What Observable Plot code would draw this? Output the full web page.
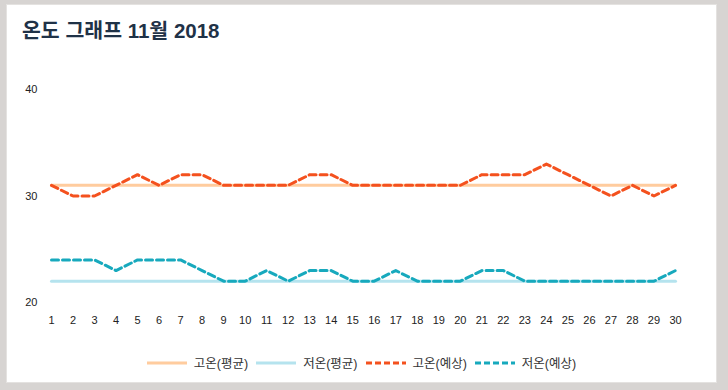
<!DOCTYPE html>
<html><head><meta charset="utf-8">
<script src="https://cdn.jsdelivr.net/npm/d3@7"></script>
<script src="https://cdn.jsdelivr.net/npm/@observablehq/plot@0.6"></script>
<style>
html,body{margin:0;padding:0;background:#d7d4d2;width:728px;height:390px;overflow:hidden;font-family:"Liberation Sans","Noto Sans CJK KR",sans-serif;}
#card{position:absolute;left:6px;top:4px;width:709px;height:377px;background:#fff;border:1px solid #e4e2e0;}
#title{position:absolute;left:15px;top:9px;font-size:20.5px;font-weight:bold;color:#1f3247;font-family:"Liberation Sans","Noto Sans CJK KR",sans-serif;}
#chart{position:absolute;left:0;top:46px;}
#legend{position:absolute;left:0;top:348px;width:709px;display:flex;justify-content:center;align-items:center;font-size:12.5px;color:#333;}
#legend .item{display:flex;align-items:center;margin:0 4px;}
#legend svg{margin-right:7px;}
</style></head>
<body>
<div id="card">
<div id="title">온도 그래프 11월 2018</div>
<div id="chart"></div>
<div id="legend"></div>
</div>
<script>
const days = d3.range(1, 31);
const highAvg = 31;
const lowAvg = 22;
const highForecast = [31,30,30,31,32,31,32,32,31,31,31,31,32,32,31,31,31,31,31,31,32,32,32,33,32,31,30,31,30,31];
const lowForecast = [24,24,24,23,24,24,24,23,22,22,23,22,23,23,22,22,23,22,22,22,23,23,22,22,22,22,22,22,22,23];
const yTicks = [20,30,40];
const seriesNames = ["고온(평균)","저온(평균)","고온(예상)","저온(예상)"];
const seriesColors = ["#ffcc9e","#b5e3ee","#f4511e","#17a9bd"];

const rows = [];
days.forEach((d,i)=>{
  rows.push({day:d, v:highAvg, s:seriesNames[0]});
  rows.push({day:d, v:lowAvg, s:seriesNames[1]});
  rows.push({day:d, v:highForecast[i], s:seriesNames[2]});
  rows.push({day:d, v:lowForecast[i], s:seriesNames[3]});
});

const plot = Plot.plot({
  width: 709, height: 290,
  marginLeft: 44, marginRight: 41, marginTop: 38, marginBottom: 39,
  style:{fontFamily:"Liberation Sans, sans-serif", fontSize:"11px", color:"#222", background:"transparent"},
  x:{type:"linear", domain:[1,30], ticks:days, tickFormat:d=>String(d), label:null},
  y:{domain:[20,40], ticks:yTicks, label:null},
  color:{domain:seriesNames, range:seriesColors},
  marks:[
    Plot.axisX({ticks:days, tickSize:0, tickPadding:14, tickFormat:d=>String(d), label:null}),
    Plot.axisY({ticks:yTicks, tickSize:0, tickPadding:14, label:null}),
    Plot.line(rows.filter(r=>r.s===seriesNames[0]), {x:"day", y:"v", stroke:seriesColors[0], strokeWidth:3}),
    Plot.line(rows.filter(r=>r.s===seriesNames[1]), {x:"day", y:"v", stroke:seriesColors[1], strokeWidth:3}),
    Plot.line(rows.filter(r=>r.s===seriesNames[2]), {x:"day", y:"v", stroke:seriesColors[2], strokeWidth:3, strokeDasharray:"7,4"}),
    Plot.line(rows.filter(r=>r.s===seriesNames[3]), {x:"day", y:"v", stroke:seriesColors[3], strokeWidth:3, strokeDasharray:"7,4"})
  ]
});
document.getElementById("chart").appendChild(plot);

const leg = document.getElementById("legend");
seriesNames.forEach((n,i)=>{
  const item = document.createElement("div");
  item.className="item";
  const dash = i>=2 ? 'stroke-dasharray="6,3"' : '';
  item.innerHTML = `<svg width="40" height="8"><line x1="0" y1="4" x2="40" y2="4" stroke="${seriesColors[i]}" stroke-width="3" ${dash}/></svg><span>${n}</span>`;
  leg.appendChild(item);
});
</script>
</body></html>
